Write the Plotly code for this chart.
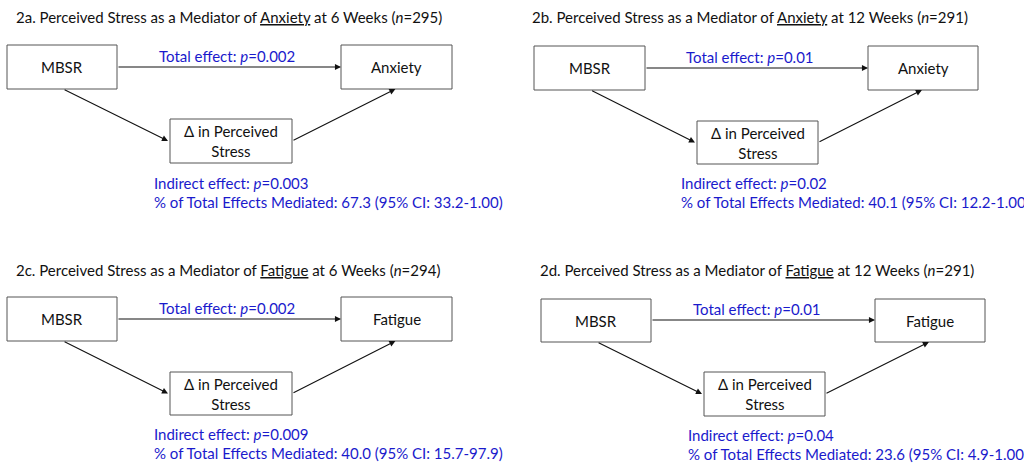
import plotly.graph_objects as go

# ---- data ----
panel_ids = ["2a", "2b", "2c", "2d"]
outcomes = ["Anxiety", "Anxiety", "Fatigue", "Fatigue"]
weeks = [6, 12, 6, 12]
n_values = [295, 291, 294, 291]
total_p = ["0.002", "0.01", "0.002", "0.01"]
indirect_p = ["0.003", "0.02", "0.009", "0.04"]
pct_mediated = ["67.3", "40.1", "40.0", "23.6"]
ci_labels = ["33.2-1.00", "12.2-1.00", "15.7-97.9", "4.9-1.00"]
exposure = "MBSR"
mediator = "Δ in Perceived<br>Stress"

# ---- layout geometry (pixels) for each panel ----
panels = [
    dict(tx=14, ty=17, m=(7, 117, 45, 89), o=(341, 452, 45, 89), d=(170, 292, 119, 163),
         arr=67, tot=(227, 55.5), ind=(152, 183)),
    dict(tx=530, ty=17, m=(534, 645, 46, 90), o=(868, 978, 46, 90), d=(697, 818, 121, 164),
         arr=68, tot=(750, 56.5), ind=(679, 183)),
    dict(tx=14, ty=270, m=(7, 117, 297, 341), o=(341, 452, 297, 341), d=(170, 292, 372, 415),
         arr=319, tot=(227, 307.5), ind=(152, 434)),
    dict(tx=538, ty=270, m=(541, 651, 299, 342), o=(875, 985, 299, 342), d=(704, 825, 372, 416),
         arr=320, tot=(757, 308.5), ind=(686, 435)),
]

FONT = "Lato, Open Sans, sans-serif"
FS = 15
BLUE = "#1a1acc"
BLACK = "#111111"

fig = go.Figure()
shapes = []
ann = []

for i, p in enumerate(panels):
    ann.append(dict(x=p["tx"], y=p["ty"], xanchor="left", yanchor="middle",
                    text=f"{panel_ids[i]}. Perceived Stress as a Mediator of <u>{outcomes[i]}</u> at {weeks[i]} Weeks (<i>n</i>={n_values[i]})",
                    font=dict(size=FS, color=BLACK, family=FONT), showarrow=False))
    for key, label in (("m", exposure), ("o", outcomes[i]), ("d", mediator)):
        x0, x1, y0, y1 = p[key]
        shapes.append(dict(type="rect", x0=x0, x1=x1, y0=y0, y1=y1, xref="x", yref="y",
                           line=dict(color="#555555", width=1), fillcolor="white", layer="below"))
        ann.append(dict(x=(x0 + x1) / 2, y=(y0 + y1) / 2, text=label, showarrow=False,
                        xanchor="center", yanchor="middle",
                        font=dict(size=FS, color=BLACK, family=FONT)))
    mx0, mx1, my0, my1 = p["m"]
    ox0, ox1, oy0, oy1 = p["o"]
    dx0, dx1, dy0, dy1 = p["d"]
    dmid = (dy0 + dy1) / 2
    arrows = [
        ((mx1, p["arr"]), (ox0, p["arr"])),
        ((mx0 + 0.51 * (mx1 - mx0), my1), (dx0 - 2, dmid)),
        ((dx1, dmid), (ox0 + 0.49 * (ox1 - ox0), oy1)),
    ]
    for (sx, sy), (ex, ey) in arrows:
        ann.append(dict(x=ex, y=ey, ax=sx, ay=sy, xref="x", yref="y", axref="x", ayref="y",
                        text="", showarrow=True, arrowhead=2, arrowsize=1.1, arrowwidth=1.1,
                        arrowcolor=BLACK, standoff=0, startstandoff=0))
    ann.append(dict(x=p["tot"][0], y=p["tot"][1], xanchor="center", yanchor="middle",
                    text=f"Total effect: <i>p</i>={total_p[i]}", showarrow=False,
                    font=dict(size=FS, color=BLUE, family=FONT)))
    ann.append(dict(x=p["ind"][0], y=p["ind"][1], xanchor="left", yanchor="middle",
                    text=f"Indirect effect: <i>p</i>={indirect_p[i]}", showarrow=False,
                    font=dict(size=FS, color=BLUE, family=FONT)))
    ann.append(dict(x=p["ind"][0], y=p["ind"][1] + 19, xanchor="left", yanchor="middle",
                    text=f"% of Total Effects Mediated: {pct_mediated[i]} (95% CI: {ci_labels[i]})",
                    showarrow=False, font=dict(size=FS, color=BLUE, family=FONT)))

fig.update_layout(
    width=1024, height=464,
    margin=dict(l=0, r=0, t=0, b=0),
    paper_bgcolor="white", plot_bgcolor="white",
    xaxis=dict(range=[0, 1024], visible=False, fixedrange=True),
    yaxis=dict(range=[464, 0], visible=False, fixedrange=True),
    shapes=shapes, annotations=ann, showlegend=False,
)

fig.write_html("out.html", config={"displayModeBar": False},
               post_script="document.body.style.margin='0';document.body.style.overflow='hidden';")
